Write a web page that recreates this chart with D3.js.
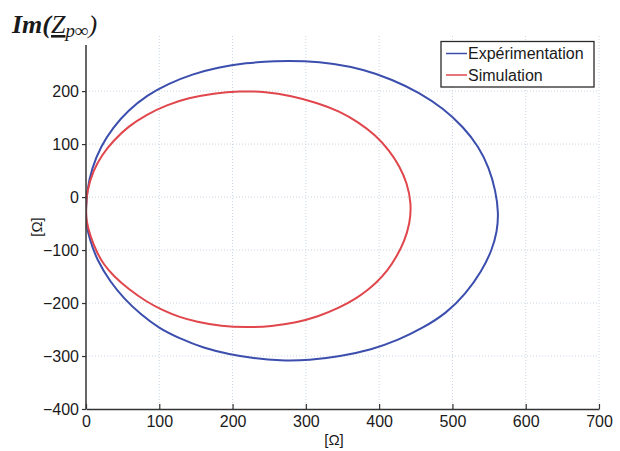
<!DOCTYPE html>
<html><head><meta charset="utf-8">
<script src="https://cdn.jsdelivr.net/npm/d3@7"></script>
<style>body{margin:0;background:#fff}svg{display:block}</style>
</head><body>
<svg id="c" width="620" height="451"></svg>
<script>
const xTicks = [0,100,200,300,400,500,600,700];
const yTicks = [-400,-300,-200,-100,0,100,200];
const seriesNames = ["Expérimentation","Simulation"];
const seriesColors = ["#3b4ead","#e0464b"];
const expRe = [0,1,8,20,37,58,83,112,145,180,218,258,298,338,378,418,455,488,515,536,550,559,563,561,554,540,518,492,460,426,390,346,305,265,228,196,160,128,100,75,52,33,15,5,0];
const expIm = [-25,10,55,95,132,164,192,214,232,245,253,257,257,252,241,222,197,167,132,95,55,12,-30,-65,-100,-140,-183,-219,-247,-270,-288,-301,-308,-309,-304,-297,-285,-267,-248,-222,-192,-160,-119,-80,-50];
const simRe = [0,1,10,22,37,58,83,110,140,174,210,245,280,315,346,372,395,414,428,438,444,442,434,424,411,396,383,369,346,316,287,253,219,185,150,128,105,83,58,37,24,15,6,0];
const simIm = [-20,10,51,80,106,134,156,174,187,196,200,199,191,178,162,141,117,88,58,27,-12,-50,-85,-112,-140,-162,-177,-191,-209,-226,-237,-244,-246,-244,-235,-227,-214,-198,-174,-148,-127,-105,-75,-43];

const svg = d3.select("#c");
const x = d3.scaleLinear().domain([0,700]).range([86,599]);
const y = d3.scaleLinear().domain([-400,287]).range([409,45]);

// grid
const grid = svg.append("g").attr("stroke","#c9d5e2").attr("stroke-width",1).attr("stroke-dasharray","1,2");
xTicks.slice(1).forEach(v=>grid.append("line").attr("x1",x(v)).attr("x2",x(v)).attr("y1",y(-400)).attr("y2",36));
yTicks.slice(1).forEach(v=>grid.append("line").attr("x1",x(0)).attr("x2",x(700)).attr("y1",y(v)).attr("y2",y(v)));

// curves
svg.append("clipPath").attr("id","pc").append("rect")
  .attr("x",x(0)).attr("y",30).attr("width",x(700)-x(0)).attr("height",y(-400)-30);
const line = d3.line().x(d=>x(d[0])).y(d=>y(d[1])).curve(d3.curveBasisClosed);
const expPts = expRe.map((v,i)=>[v,expIm[i]]);
const simPts = simRe.map((v,i)=>[v,simIm[i]]);
svg.append("path").attr("d",line(expPts)).attr("fill","none").attr("stroke",seriesColors[0]).attr("stroke-width",2).attr("clip-path","url(#pc)");
svg.append("path").attr("d",line(simPts)).attr("fill","none").attr("stroke",seriesColors[1]).attr("stroke-width",2).attr("clip-path","url(#pc)");

// axes
const fontF = "'Liberation Sans', Arial, sans-serif";
const xa = svg.append("g").attr("transform",`translate(0,${y(-400)})`)
  .call(d3.axisBottom(x).tickValues(xTicks).tickSize(-5).tickPadding(8).tickSizeOuter(0));
const ya = svg.append("g").attr("transform",`translate(${x(0)},0)`)
  .call(d3.axisLeft(y).tickValues(yTicks).tickSize(4).tickPadding(3).tickSizeOuter(0));
[xa,ya].forEach(a=>{
  a.select(".domain").attr("stroke","#333").attr("stroke-width",1.5);
  a.selectAll(".tick line").attr("stroke","#333").attr("stroke-width",1.2);
  a.selectAll("text").attr("font-family",fontF).attr("font-size",16).attr("fill","#1a1a1a");
});
ya.select(".domain").attr("d",`M0,${y(-400)}V${y(287)}`);
xa.selectAll(".tick text").attr("dy","0.6em");
ya.selectAll(".tick text").attr("dy","0.35em");

// axis labels
svg.append("text").attr("x",334).attr("y",445).attr("text-anchor","middle")
  .attr("font-family",fontF).attr("font-size",15).attr("fill","#1a1a1a").text("[Ω]");
svg.append("text").attr("transform","translate(37,227) rotate(-90)").attr("text-anchor","middle")
  .attr("font-family",fontF).attr("font-size",15).attr("fill","#1a1a1a").attr("dy","0.35em").text("[Ω]");

// title
const t = svg.append("text").attr("x",12).attr("y",33).attr("font-family","'Liberation Serif', serif")
  .attr("font-style","italic").attr("font-size",26).attr("fill","#1a1a1a");
t.append("tspan").attr("font-weight","bold").text("Im(");
t.append("tspan").attr("text-decoration","underline").text("Z");
t.append("tspan").attr("font-size",19).attr("dy",4).text("p∞");
t.append("tspan").attr("dy",-4).text(")");

// legend
const lg = svg.append("g");
lg.append("rect").attr("x",441).attr("y",41.5).attr("width",153).attr("height",45.5)
  .attr("fill","#fff").attr("stroke","#2a2a2a").attr("stroke-width",1.3);
seriesNames.forEach((n,i)=>{
  const yy = 53.5 + i*21.5;
  lg.append("line").attr("x1",446).attr("x2",467).attr("y1",yy).attr("y2",yy)
    .attr("stroke",seriesColors[i]).attr("stroke-width",1.5);
  lg.append("text").attr("x",468).attr("y",yy).attr("dy","0.35em").attr("font-family",fontF)
    .attr("font-size",16).attr("fill","#1a1a1a").text(n);
});
</script>
</body></html>
